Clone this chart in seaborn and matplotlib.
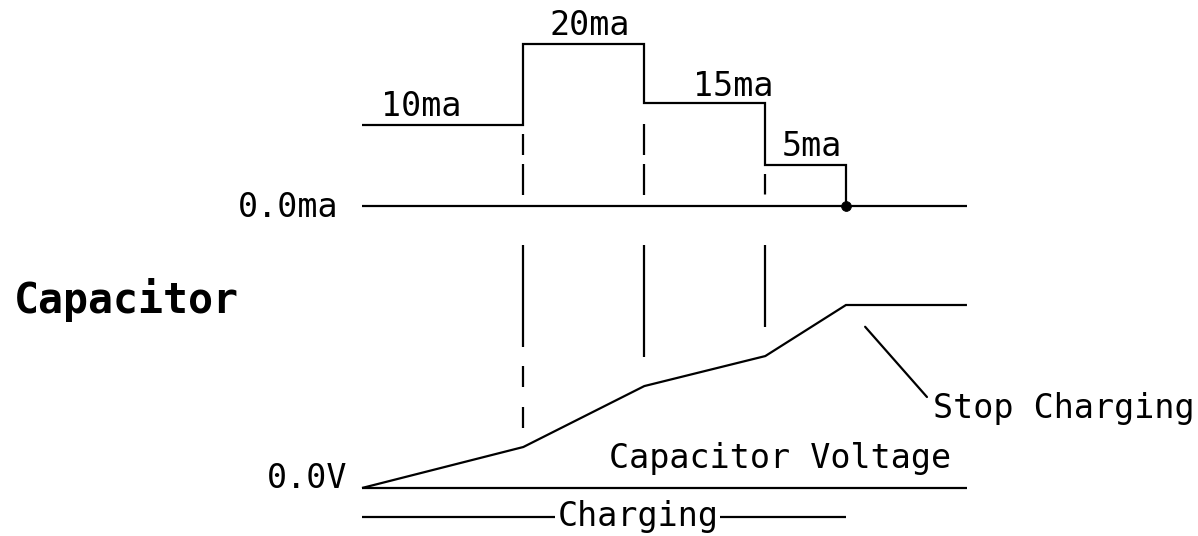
import matplotlib
matplotlib.use("Agg")
import matplotlib.pyplot as plt
import seaborn as sns

# ---------------- data ----------------
step_times = [0, 4, 7, 10, 12]            # start of each current level, last = stop time
current_levels = [10, 20, 12.7, 5, 0]     # drawn current levels (ma)
current_labels = ["10ma", "20ma", "15ma", "5ma"]
voltage_times = [0, 4, 7, 10, 12, 15]
voltage_values = [0, 0.224, 0.557, 0.721, 1.0, 1.0]
end_time = 15
zero_current_label = "0.0ma"
zero_voltage_label = "0.0V"
title_label = "Capacitor"
voltage_label = "Capacitor Voltage"
stop_label = "Stop Charging"
charging_label = "Charging"

# ---------------- figure ----------------
W, H, DPI = 1198, 536, 100
sns.set_theme(style="white")
plt.rcParams["font.family"] = ["DejaVu Sans Mono"]
plt.rcParams["lines.scale_dashes"] = False
plt.rcParams["lines.solid_capstyle"] = "butt"
plt.rcParams["lines.solid_joinstyle"] = "miter"

fig = plt.figure(figsize=(W / DPI, H / DPI), dpi=DPI)
fig.patch.set_facecolor("white")

PX_PER_T = 40.33
T0_PX = 362
ax_i = fig.add_axes([0, 0, 1, 1])
ax_i.set_xlim(-T0_PX / PX_PER_T, (W - T0_PX) / PX_PER_T)
ax_i.set_ylim(-(536 - 206) / 8.1, 206 / 8.1)
ax_v = fig.add_axes([0, 0, 1, 1], sharex=ax_i)
ax_v.set_ylim(-(536 - 488) / 183.0, 488 / 183.0)
ov = fig.add_axes([0, 0, 1, 1])
ov.set_xlim(0, W)
ov.set_ylim(H, 0)
for a in (ax_i, ax_v, ov):
    a.axis("off")
    a.patch.set_visible(False)

LW = 1.6
K = "black"

# current waveform
sns.lineplot(x=step_times, y=current_levels, drawstyle="steps-post", estimator=None,
             sort=False, color=K, lw=LW, ax=ax_i)
sns.lineplot(x=[0, end_time], y=[0, 0], color=K, lw=LW, ax=ax_i)
sns.scatterplot(x=[step_times[-1]], y=[0], color=K, s=50, edgecolor=K, ax=ax_i, zorder=5)

# voltage waveform
sns.lineplot(x=voltage_times, y=voltage_values, estimator=None, sort=False,
             color=K, lw=LW, ax=ax_v)
sns.lineplot(x=[0, end_time], y=[0, 0], color=K, lw=LW, ax=ax_v)

fig.canvas.draw()


def px_i(t, i):
    x, y = ax_i.transData.transform((t, i))
    return x, H - y


def px_v(t, v):
    x, y = ax_v.transData.transform((t, v))
    return x, H - y


P = 0.72  # pixel -> point
_, y_zero_i = px_i(0, 0)
bottom_styles = [(0, (102 * P, 19 * P, 21 * P, 20 * P)), "-", "-"]
bottom_gaps = [19, 29, 29]
DASH_ON, DASH_OFF = 31, 9
for k in range(1, 4):
    t = step_times[k]
    lower = min(current_levels[k - 1], current_levels[k])
    x, y_low = px_i(t, lower)
    ys = y_low + 9
    ye = y_zero_i - 10
    phase = (ys - 124) % (DASH_ON + DASH_OFF)
    rem = DASH_ON - phase
    if 0 < rem < 8:
        ys += rem + DASH_OFF
        phase = 0
    ov.plot([x, x], [ys, ye], color=K, lw=LW,
            linestyle=(phase * P, (DASH_ON * P, DASH_OFF * P)))
    _, yv = px_v(t, voltage_values[voltage_times.index(t)])
    ov.plot([x, x], [y_zero_i + 39, yv - bottom_gaps[k - 1]], color=K, lw=LW,
            linestyle=bottom_styles[k - 1])

# ---------------- text ----------------
FS = 24
label_pos = [(381, 116), (549, 35), (693, 96), (782, 156)]
for (lx, ly), lab in zip(label_pos, current_labels):
    ov.text(lx, ly, lab, fontsize=FS, ha="left", va="baseline", color=K)

ov.text(338, 217, zero_current_label, fontsize=FS, ha="right", va="baseline", color=K)
ov.text(347, 488, zero_voltage_label, fontsize=FS, ha="right", va="baseline", color=K)
ov.text(14, 313, title_label, fontsize=30, fontweight="bold", ha="left", va="baseline", color=K)
ov.text(609, 468, voltage_label, fontsize=FS, ha="left", va="baseline", color=K)
ov.text(933, 418, stop_label, fontsize=FS, ha="left", va="baseline", color=K)

# leader to stop point
ax_v.annotate("", xy=(voltage_times[4], voltage_values[4]), xytext=(81, -92),
              textcoords="offset pixels",
              arrowprops=dict(arrowstyle="-", color=K, lw=LW, shrinkA=0, shrinkB=29 * P))

# charging bracket
x_start, _ = px_i(0, 0)
x_stop, _ = px_i(step_times[-1], 0)
y_br = 517
ov.plot([x_start, 555], [y_br, y_br], color=K, lw=LW)
ov.plot([720, x_stop], [y_br, y_br], color=K, lw=LW)
ov.text(638, 526, charging_label, fontsize=FS, ha="center", va="baseline", color=K)

fig.savefig("out.png", dpi=DPI, facecolor="white")
